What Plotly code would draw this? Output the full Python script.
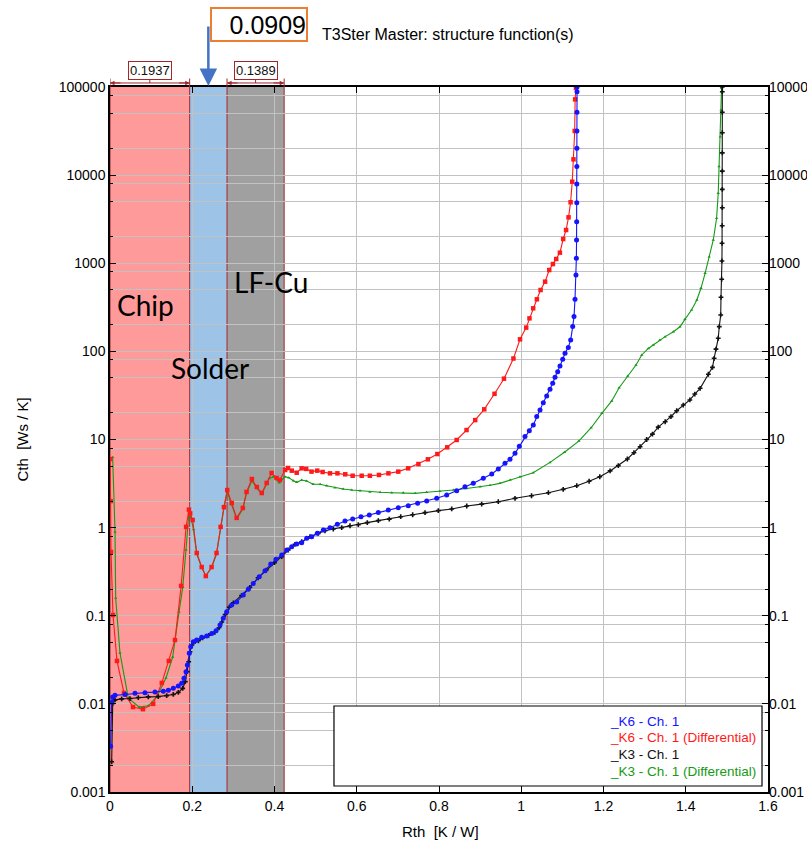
import plotly.graph_objects as go

# ---- structure function data: Rth [K/W] vs Cth [Ws/K] ----
k6_cum_rth = [0.0015, 0.004, 0.0066, 0.0122, 0.0365, 0.0608, 0.0851, 0.1094, 0.1296, 0.1418,
              0.1539, 0.1661, 0.1743, 0.1799, 0.1848, 0.188, 0.1928, 0.1962, 0.2026, 0.2108,
              0.223, 0.2351, 0.2473, 0.2578, 0.2675, 0.2755, 0.2838, 0.2959, 0.3081, 0.3241,
              0.3363, 0.3484, 0.363, 0.3769, 0.3908, 0.4036, 0.4175, 0.4297, 0.4418, 0.454,
              0.4661, 0.4783, 0.4904, 0.5041, 0.5187, 0.535, 0.5527, 0.5714, 0.5901, 0.6103,
              0.6305, 0.6524, 0.6767, 0.701, 0.7253, 0.748, 0.7701, 0.7944, 0.8187, 0.843,
              0.8632, 0.8834, 0.9077, 0.9282, 0.9442, 0.9605, 0.9726, 0.9848, 0.9953, 1.0091,
              1.0196, 1.0293, 1.0376, 1.0456, 1.0536, 1.0619, 1.0699, 1.0765, 1.0821, 1.0886,
              1.0942, 1.1008, 1.1064, 1.1144, 1.1202, 1.1251, 1.1283, 1.1307, 1.1331, 1.1340,
              1.1345, 1.1348, 1.1350, 1.1351, 1.1352, 1.1353, 1.1354, 1.1355, 1.1356, 1.1357]
k6_cum_cth = [0.0033, 0.0105, 0.0120, 0.0125, 0.0128, 0.0132, 0.0134, 0.0136, 0.0139, 0.0143,
              0.0150, 0.0160, 0.0171, 0.0195, 0.0232, 0.0276, 0.0375, 0.0446, 0.0508, 0.053,
              0.0569, 0.059, 0.063, 0.0676, 0.0785, 0.0935, 0.111, 0.132, 0.143, 0.172,
              0.2, 0.233, 0.277, 0.324, 0.386, 0.437, 0.489, 0.557, 0.608, 0.652,
              0.675, 0.757, 0.79, 0.861, 0.94, 1.0, 1.09, 1.19, 1.25, 1.33,
              1.39, 1.48, 1.58, 1.68, 1.77, 1.89, 2.0, 2.15, 2.35, 2.62,
              2.91, 3.18, 3.63, 4.06, 4.63, 5.37, 5.96, 6.97, 8.4, 10.8,
              12.6, 14.6, 18.2, 21.6, 26.2, 31.2, 37.2, 43.4, 50.8, 58.8,
              68.2, 81.2, 95, 111, 135, 191, 248, 390, 736, 1138,
              1838, 2964, 4865, 7940, 12500, 20200, 31700, 51600, 88500, 100000]

k6_diff_rth = [0.0005, 0.0015, 0.0024, 0.0073, 0.017, 0.034, 0.056, 0.080, 0.105, 0.126,
               0.143, 0.158, 0.173, 0.185, 0.192, 0.195, 0.201, 0.211, 0.223, 0.233,
               0.247, 0.259, 0.269, 0.277, 0.285, 0.296, 0.308, 0.323, 0.332, 0.345,
               0.357, 0.369, 0.381, 0.393, 0.405, 0.413, 0.426, 0.433, 0.442, 0.454,
               0.466, 0.477, 0.490, 0.504, 0.517, 0.535, 0.553, 0.572, 0.590, 0.612,
               0.632, 0.654, 0.677, 0.701, 0.725, 0.750, 0.773, 0.796, 0.820, 0.843,
               0.867, 0.888, 0.910, 0.935, 0.958, 0.981, 0.997, 1.012, 1.020, 1.029,
               1.038, 1.047, 1.058, 1.068, 1.077, 1.085, 1.094, 1.102, 1.109, 1.115,
               1.120, 1.124, 1.127, 1.130, 1.131, 1.133]
k6_diff_cth = [6.0, 2.0, 0.53, 0.102, 0.0307, 0.0133, 0.0092, 0.0087, 0.0100, 0.0173,
               0.0307, 0.053, 0.218, 1.02, 1.6, 1.45, 1.22, 0.515, 0.357, 0.282,
               0.357, 0.515, 1.02, 1.71, 2.67, 1.9, 1.29, 1.67, 2.54, 3.56,
               2.89, 2.47, 3.21, 4.17, 3.66, 3.47, 4.51, 4.75, 4.43, 4.2,
               4.71, 4.64, 4.32, 4.43, 4.28, 4.13, 4.13, 4.03, 3.88, 3.88,
               3.88, 3.96, 4.13, 4.32, 4.71, 5.27, 5.96, 6.84, 8.15, 9.87,
               12.8, 16.6, 22, 33, 49, 83, 137, 186, 237, 308,
               390, 497, 618, 838, 979, 1117, 1318, 1884, 2384, 3321,
               4920, 8420, 15100, 31700, 72400, 97400]

k3_cum_rth = [0.0041, 0.0066, 0.0122, 0.0284, 0.0486, 0.0688, 0.0931, 0.1174, 0.1379, 0.1539,
              0.1661, 0.1768, 0.1831, 0.188, 0.1914, 0.1945, 0.1994, 0.2067, 0.215, 0.225,
              0.24, 0.255, 0.265, 0.272, 0.28, 0.29, 0.30, 0.32, 0.34, 0.36,
              0.38, 0.40, 0.4175, 0.4335, 0.4498, 0.4661, 0.4863, 0.5065, 0.5228, 0.543,
              0.5634, 0.5836, 0.6038, 0.6256, 0.6524, 0.6791, 0.7069, 0.736, 0.766, 0.7983,
              0.8309, 0.8674, 0.9038, 0.9442, 0.9848, 1.025, 1.066, 1.102, 1.135, 1.165,
              1.191, 1.216, 1.236, 1.258, 1.274, 1.289, 1.305, 1.319, 1.333, 1.350,
              1.364, 1.378, 1.394, 1.41, 1.422, 1.435, 1.455, 1.465, 1.469, 1.4735,
              1.479, 1.4815, 1.485, 1.4857, 1.4874, 1.488, 1.4883, 1.4886, 1.4889, 1.4889,
              1.4889, 1.4889, 1.4889, 1.4889, 1.4889, 1.4889]
k3_cum_cth = [0.0022, 0.0101, 0.0111, 0.0114, 0.0115, 0.0118, 0.0120, 0.0121, 0.0124, 0.0128,
              0.0135, 0.015, 0.0179, 0.0232, 0.0301, 0.0391, 0.0466, 0.0508, 0.052, 0.056,
              0.060, 0.065, 0.073, 0.085, 0.103, 0.125, 0.14, 0.17, 0.21, 0.27,
              0.33, 0.40, 0.468, 0.557, 0.647, 0.692, 0.789, 0.861, 0.922, 0.964,
              1.0, 1.05, 1.08, 1.14, 1.2, 1.25, 1.33, 1.40, 1.48, 1.56,
              1.63, 1.76, 1.85, 1.97, 2.15, 2.30, 2.49, 2.72, 2.99, 3.36,
              3.78, 4.40, 5.05, 6.01, 7.08, 8.28, 10.0, 11.5, 13.8, 15.9,
              18.2, 21.2, 24.6, 28.1, 32.8, 38.1, 55, 65.9, 83.4, 106,
              141, 191, 259, 411, 658, 1062, 1684, 2667, 4270, 6900,
              11100, 17900, 30300, 51600, 88500, 100000]

k3_diff_rth = [0.0065, 0.0122, 0.0138, 0.0243, 0.0445, 0.0712, 0.0931, 0.1135, 0.1362, 0.1524,
               0.1678, 0.1768, 0.1848, 0.1918, 0.197, 0.203, 0.211, 0.223, 0.233, 0.247,
               0.259, 0.269, 0.277, 0.285, 0.296, 0.308, 0.323, 0.332, 0.345, 0.357,
               0.369, 0.387, 0.397, 0.4117, 0.4255, 0.435, 0.4457, 0.454, 0.466, 0.478,
               0.494, 0.511, 0.527, 0.547, 0.567, 0.588, 0.608, 0.632, 0.657, 0.685,
               0.713, 0.742, 0.770, 0.802, 0.835, 0.867, 0.900, 0.924, 0.948, 0.973,
               0.997, 1.029, 1.070, 1.105, 1.140, 1.170, 1.196, 1.220, 1.238, 1.259,
               1.279, 1.293, 1.309, 1.321, 1.337, 1.350, 1.370, 1.386, 1.398, 1.414,
               1.427, 1.437, 1.447, 1.457, 1.467, 1.475, 1.479, 1.481, 1.484, 1.486, 1.487]
k3_diff_cth = [6.3, 0.89, 0.159, 0.0378, 0.0116, 0.0092, 0.0095, 0.012, 0.0197, 0.034,
               0.11, 0.21, 0.557, 1.48, 1.3, 0.95, 0.50, 0.35, 0.285, 0.35,
               0.50, 1.0, 1.65, 2.55, 1.85, 1.25, 1.62, 2.45, 3.4, 2.8,
               2.4, 3.6, 3.79, 3.24, 3.79, 3.69, 3.40, 3.27, 3.47, 3.38,
               3.10, 3.10, 2.99, 2.84, 2.74, 2.67, 2.62, 2.54, 2.52, 2.49,
               2.49, 2.45, 2.52, 2.58, 2.67, 2.78, 2.91, 3.02, 3.18, 3.47,
               3.78, 4.2, 5.5, 7.16, 9.6, 13.6, 19.8, 27.4, 38.7, 52.6,
               70, 91, 108, 118, 135, 147, 167, 190, 231, 295,
               383, 520, 769, 1186, 1837, 3240, 6220, 12500, 27300, 54800, 96600]

series_names = ["_K6 - Ch. 1", "_K6 - Ch. 1 (Differential)", "_K3 - Ch. 1", "_K3 - Ch. 1 (Differential)"]
series_colors = ["#1414FF", "#FF1A1A", "#111111", "#159A15"]

# thermal layers along the Rth axis
layer_names = ["Chip", "Solder", "LF-Cu"]
layer_bounds = [0.0, 0.1937, 0.2846, 0.4235]
layer_fills = ["#FF9A9A", "#9DC3E6", "#A0A0A0"]
dim_labels = ["0.1937", "0.1389"]      # widths of chip and LF-Cu layers
solder_label = "0.0909"

x_ticks = [0, 0.2, 0.4, 0.6, 0.8, 1.0, 1.2, 1.4, 1.6]
x_ticktext = ["0", "0.2", "0.4", "0.6", "0.8", "1", "1.2", "1.4", "1.6"]
y_ticks = [0.001, 0.01, 0.1, 1, 10, 100, 1000, 10000, 100000]
y_ticktext = ["0.001", "0.01", "0.1", "1", "10", "100", "1000", "10000", "100000"]
y_minor = [m * d for d in [0.001, 0.01, 0.1, 1, 10, 100, 1000, 10000] for m in (2, 5, 8)]

SANS = "Liberation Sans, Arial, sans-serif"
DARKRED = "#A3262A"

fig = go.Figure()

styles = [
    dict(symbol="circle", size=5),
    dict(symbol="square", size=4.5),
    dict(symbol="cross", size=4),
    dict(symbol="triangle-up", size=3),
]
data = [(k6_cum_rth, k6_cum_cth), (k6_diff_rth, k6_diff_cth),
        (k3_cum_rth, k3_cum_cth), (k3_diff_rth, k3_diff_cth)]
# differential curves first, cumulative curves on top
for i in [3, 1, 2, 0]:
    xs, ys = data[i]
    fig.add_trace(go.Scatter(
        x=xs, y=ys, mode="lines+markers", name=series_names[i],
        line=dict(color=series_colors[i], width=1.1),
        marker=dict(color=series_colors[i], **styles[i]),
        showlegend=False,
    ))

# invisible trace carrying the mirrored right-hand axis
fig.add_trace(go.Scatter(x=[0.8], y=[1], yaxis="y2", mode="markers",
                         marker=dict(opacity=0), showlegend=False, hoverinfo="skip"))

shapes = []
for i, fill in enumerate(layer_fills):
    shapes.append(dict(type="rect", xref="x", yref="paper", x0=layer_bounds[i], x1=layer_bounds[i + 1],
                       y0=0, y1=1, fillcolor=fill, line=dict(width=0), layer="below"))
for b in layer_bounds:
    shapes.append(dict(type="line", xref="x", yref="paper", x0=b, x1=b, y0=0, y1=1,
                       line=dict(color=DARKRED, width=1), layer="below"))

annotations = []
# dimension markers above the chip and LF-Cu layers
dim_spans = [(layer_bounds[0], layer_bounds[1]), (layer_bounds[2], layer_bounds[3])]
y_dim = 1.0057
for (a, b), lab in zip(dim_spans, dim_labels):
    mid = (a + b) / 2
    shapes.append(dict(type="line", xref="x", yref="paper", x0=a, x1=b, y0=y_dim, y1=y_dim,
                       line=dict(color=DARKRED, width=1)))
    for e in (a, b):
        shapes.append(dict(type="line", xref="x", yref="paper", x0=e, x1=e, y0=1.0, y1=1.012,
                           line=dict(color=DARKRED, width=1)))
    shapes.append(dict(type="line", xref="x", yref="paper", x0=mid, x1=mid, y0=y_dim, y1=1.013,
                       line=dict(color=DARKRED, width=1)))
    annotations.append(dict(x=a, y=y_dim, xref="x", yref="paper", text="", showarrow=True,
                            ax=12, ay=0, arrowhead=2, arrowsize=0.9, arrowwidth=1,
                            arrowcolor=DARKRED, standoff=0))
    annotations.append(dict(x=b, y=y_dim, xref="x", yref="paper", text="", showarrow=True,
                            ax=-12, ay=0, arrowhead=2, arrowsize=0.9, arrowwidth=1,
                            arrowcolor=DARKRED, standoff=0))
    annotations.append(dict(x=mid, y=1.0227, xref="x", yref="paper", xanchor="center", yanchor="middle",
                            text=lab, showarrow=False,
                            font=dict(family=SANS, size=13, color="#111"),
                            bgcolor="white", bordercolor=DARKRED, borderwidth=1, borderpad=1))

# solder thickness callout
solder_mid = (layer_bounds[1] + layer_bounds[2]) / 2
annotations.append(dict(x=solder_mid, y=1.0014, xref="x", yref="paper", text="", showarrow=True,
                        ax=0, ay=-61, arrowhead=2, arrowsize=1.4, arrowwidth=2.5,
                        arrowcolor="#4472C4", standoff=0))
annotations.append(dict(x=0.2264, y=1.0887, xref="paper", yref="paper", xanchor="center", yanchor="middle",
                        text=solder_label, showarrow=False, width=94, height=31, align="right",
                        font=dict(family=SANS, size=25, color="#000"),
                        bordercolor="#ED7D31", borderwidth=2, borderpad=0, bgcolor="white"))

# layer names
layer_label_pos = [(0.0076, 0.6908, "left"), (0.152, 0.6014, "center"), (0.2454, 0.7234, "center")]
for name, (px, py, anc) in zip(layer_names, layer_label_pos):
    annotations.append(dict(x=px, y=py, xref="paper", yref="paper", text=name, showarrow=False,
                            xanchor=anc, yanchor="middle",
                            font=dict(family="Lato, Noto Sans, sans-serif", size=28, color="#000")))

# title and axis titles
annotations.append(dict(x=0.319, y=1.0738, xref="paper", yref="paper", xanchor="left", yanchor="middle",
                        text="T3Ster Master: structure function(s)", showarrow=False,
                        font=dict(family=SANS, size=16, color="#000")))
annotations.append(dict(x=0.503, y=-0.0567, xref="paper", yref="paper", xanchor="center", yanchor="middle",
                        text="Rth  [K / W]", showarrow=False,
                        font=dict(family=SANS, size=15, color="#000")))
annotations.append(dict(x=-0.1337, y=0.5, xref="paper", yref="paper", xanchor="center", yanchor="middle",
                        textangle=-90, text="Cth  [Ws / K]", showarrow=False,
                        font=dict(family=SANS, size=15, color="#000")))

# legend box
shapes.append(dict(type="rect", xref="paper", yref="paper", x0=0.3404, x1=0.9909, y0=0.0085, y1=0.122,
                   fillcolor="white", line=dict(color="#000", width=1.2), layer="above"))
legend_y = [0.1007, 0.0766, 0.0539, 0.0284]
for name, col, ly in zip(series_names, series_colors, legend_y):
    annotations.append(dict(x=0.7568, y=ly, xref="paper", yref="paper", xanchor="left", yanchor="middle",
                            text=name, showarrow=False,
                            font=dict(family=SANS, size=13.5, color=col)))

grid = "#C2C2C2"
tick_font = dict(family=SANS, size=14, color="#000")
fig.update_layout(
    width=807, height=846,
    margin=dict(l=110, r=39, t=87, b=54, autoexpand=False),
    paper_bgcolor="white", plot_bgcolor="white",
    shapes=shapes, annotations=annotations,
    xaxis=dict(range=[0, 1.6], tickvals=x_ticks, ticktext=x_ticktext, automargin=False,
               showgrid=True, gridcolor=grid, gridwidth=1, zeroline=False,
               ticks="inside", ticklen=6, tickcolor="#000", mirror="ticks",
               showline=True, linecolor="#000", linewidth=1.5, tickfont=tick_font),
    yaxis=dict(type="log", range=[-3, 5], tickvals=y_ticks, ticktext=y_ticktext, automargin=False,
               showgrid=True, gridcolor=grid, gridwidth=1, zeroline=False,
               ticks="inside", ticklen=6, tickcolor="#000", mirror="ticks",
               showline=True, linecolor="#000", linewidth=1.5,
               minor=dict(tickmode="array", tickvals=y_minor, showgrid=True, gridcolor=grid,
                          gridwidth=1, ticks="inside", ticklen=3, tickcolor="#000"),
               tickfont=tick_font),
    yaxis2=dict(type="log", range=[-3, 5], tickvals=y_ticks, ticktext=y_ticktext, automargin=False,
                overlaying="y", side="right", showgrid=False, zeroline=False,
                ticks="", showline=False, tickfont=tick_font),
)

fig.write_html("out.html")
